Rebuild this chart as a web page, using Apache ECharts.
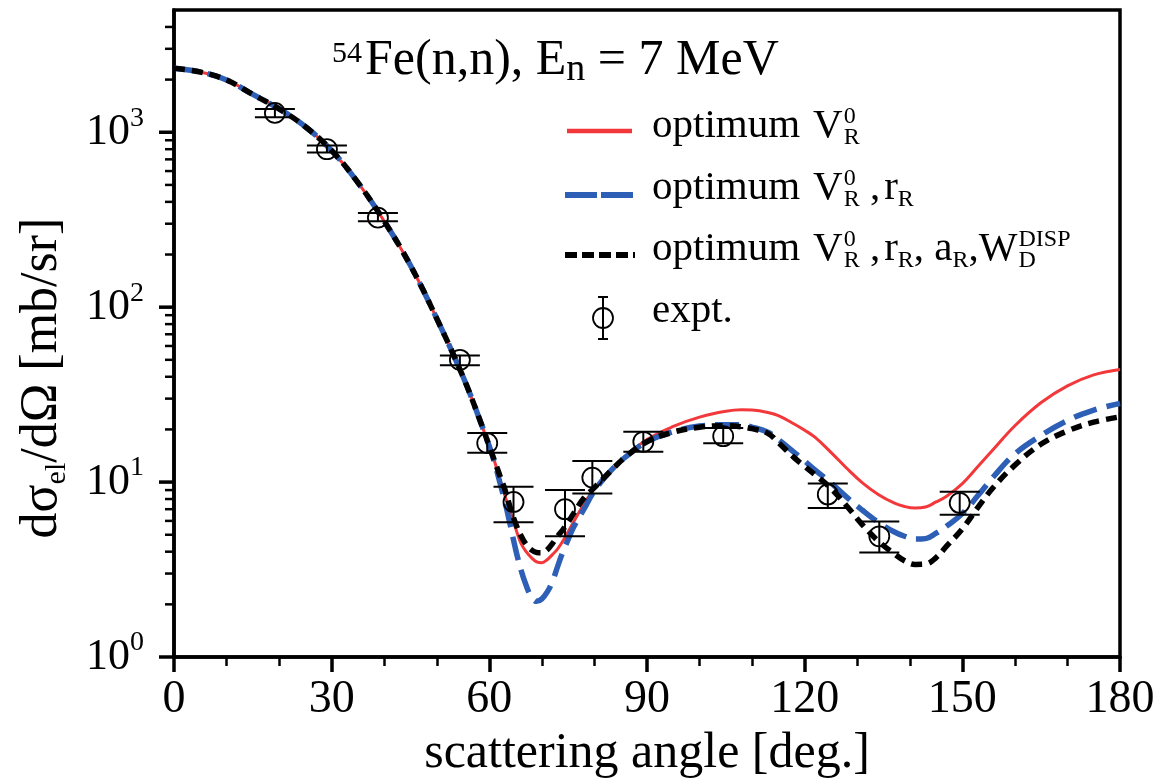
<!DOCTYPE html>
<html><head><meta charset="utf-8">
<script src="https://cdn.jsdelivr.net/npm/echarts@6/dist/echarts.min.js"></script>
<style>html,body{margin:0;padding:0;background:#fff}#c{width:1163px;height:784px}</style>
</head><body><div id="c"></div>
<script>
const FONT = '"Liberation Serif", "Times New Roman", serif';

// ---- data ----
const angles = [0,5,10,15,20,25,30,35,40,45,50,55,58,60,61,62,63,64,65,66,67,68,69,70,71,72,73,74,75,76,78,80,83,86,90,95,100,105,108,110,113,115,118,120,122,125,128,131,134,137,139,141,143,145,147,150,153,156,160,165,170,175,180];
const redVals = [2320,2210,1990,1645,1360,1075,785,515,310,173,86,40,23.5,16,13.1,10.4,8.3,6.7,5.44,4.47,4.0,3.7,3.5,3.46,3.6,3.85,4.15,4.6,5.2,5.9,7.5,9.2,11.5,14,17.5,20.8,23.5,25.4,25.9,25.8,25.0,24,21.5,19.8,18,14.8,12,9.9,8.5,7.6,7.25,7.1,7.2,7.7,8.3,9.8,12.3,15.5,21,28.5,35.5,41,44];
const blueVals = [2320,2210,1990,1645,1360,1075,785,515,310,173,86,40,23.5,16,12.9,9.96,7.65,5.65,4.13,3.16,2.57,2.21,2.08,2.15,2.35,2.7,3.3,4.0,4.7,5.5,7.0,8.9,11.5,14,17,19.4,20.9,21.3,21.2,20.6,19.3,17.5,14.8,13.2,11.7,9.9,8.2,6.9,5.9,5.2,4.9,4.72,4.75,5.1,5.6,6.6,8.4,10.8,14.5,18.5,22.5,25.8,28.2];
const blackVals = [2320,2210,1990,1645,1360,1075,785,515,310,173,86,40,23.5,16,13.2,10.9,9.0,7.1,5.8,4.95,4.4,4.1,3.96,3.95,4.1,4.45,4.9,5.35,5.9,6.6,8.1,9.3,11.5,14,17,19.3,20.6,21,20.7,20.2,19,16.8,13.8,12.3,11.0,9.2,7.3,5.7,4.6,3.9,3.55,3.38,3.4,3.7,4.3,5.4,7.2,9.4,12.5,16.5,19.6,22,23.6];

const exptAngles = [19.2,29.1,38.8,54.4,59.6,64.6,74.4,79.6,89.3,104.5,124.4,134.2,149.5];
const exptVals   = [1290,800,325,50,16.7,7.7,7.0,10.6,17.0,18.3,8.5,4.9,7.6];
const exptLow    = [1220,765,310,46.5,14.7,5.9,4.9,8.6,14.9,16.7,7.1,3.96,6.5];
const exptHigh   = [1360,840,345,53,19.1,9.4,9.0,13.2,19.4,20.4,9.8,5.95,8.8];

const yMajorTicks = [1,10,100,1000];
const yMinorTicks = [2,3,4,5,6,7,8,9,20,30,40,50,60,70,80,90,200,300,400,500,600,700,800,900,2000,3000,4000];

const seriesNames = ['optimum V_R^0','optimum V_R^0, r_R','optimum V_R^0, r_R, a_R, W_D^DISP','expt.'];

// ---- helpers ----
const mctx = document.createElement('canvas').getContext('2d');
function tw(t, s){ mctx.font = s + 'px "Liberation Serif"'; return mctx.measureText(t).width; }
function run(x0, base, pieces){
  const els = []; let x = x0;
  pieces.forEach(p => {
    if (p.gap){ x += p.gap; return; }
    const list = p.stack || [p];
    let wmax = 0;
    list.forEach(q => {
      els.push({type:'text', x: x, y: base + (q.dy||0) - 0.34*q.s, silent:true,
        style:{text:q.t, font: q.s+'px '+FONT, fill:'#000', align:'left', textAlign:'left', verticalAlign:'middle', textVerticalAlign:'middle'}});
      wmax = Math.max(wmax, tw(q.t, q.s));
    });
    x += wmax;
  });
  return els;
}

const LF = 41, LS = 24;
const VR0 = [{t:'V', s:LF}, {gap:1}, {stack:[{t:'0', s:LS, dy:-15}, {t:'R', s:LS, dy:6}]}];
const graphics = [];
// title
graphics.push(...run(332, 78, [{t:'54', s:30, dy:-14}, {gap:3}, {t:'Fe(n,n), E', s:50}, {t:'n', s:38, dy:5}, {t:' = 7 MeV', s:50}]));
// legend rows
graphics.push({type:'line', silent:true, shape:{x1:567,y1:131,x2:632,y2:131}, style:{stroke:'#f2383a', lineWidth:4.5}});
graphics.push(...run(652, 140, [{t:'optimum', s:LF}, {gap:13}, ...VR0]));
graphics.push({type:'line', silent:true, shape:{x1:565,y1:195,x2:633,y2:195}, style:{stroke:'#2c5fb5', lineWidth:6, lineDash:[32,4]}});
graphics.push(...run(652, 202, [{t:'optimum', s:LF}, {gap:13}, ...VR0, {t:' ,', s:LF}, {gap:4}, {t:'r', s:LF}, {t:'R', s:LS, dy:6}]));
graphics.push({type:'line', silent:true, shape:{x1:565,y1:255,x2:635,y2:255}, style:{stroke:'#000', lineWidth:6, lineDash:[12,5]}});
graphics.push(...run(652, 263, [{t:'optimum', s:LF}, {gap:13}, ...VR0, {t:' ,', s:LF}, {gap:4}, {t:'r', s:LF}, {t:'R', s:LS, dy:6}, {t:', a', s:LF}, {t:'R', s:LS, dy:6}, {t:',W', s:LF}, {gap:1}, {stack:[{t:'DISP', s:LS, dy:-15}, {t:'D', s:LS, dy:6}]}]));
// expt legend symbol
graphics.push({type:'circle', silent:true, shape:{cx:603, cy:318, r:10}, style:{fill:'none', stroke:'#000', lineWidth:1.8}});
graphics.push({type:'line', silent:true, shape:{x1:603,y1:297,x2:603,y2:339}, style:{stroke:'#000', lineWidth:2}});
graphics.push({type:'line', silent:true, shape:{x1:598,y1:297,x2:608,y2:297}, style:{stroke:'#000', lineWidth:2}});
graphics.push({type:'line', silent:true, shape:{x1:598,y1:339,x2:608,y2:339}, style:{stroke:'#000', lineWidth:2}});
graphics.push(...run(652, 325, [{t:'expt.', s:LF}]));
// y axis title
graphics.push({type:'text', x:42, y:378, rotation:Math.PI/2, silent:true,
  style:{text:'{a|dσ}{b|el}{a|/dΩ [mb/sr]}', align:'center', verticalAlign:'middle', textAlign:'center', textVerticalAlign:'middle', fill:'#000',
    rich:{a:{fontFamily:FONT, fontSize:52, lineHeight:60, verticalAlign:'middle', fill:'#000', color:'#000'},
          b:{fontFamily:FONT, fontSize:30, lineHeight:28, verticalAlign:'bottom', fill:'#000', color:'#000'}}}});

const chart = echarts.init(document.getElementById('c'), null, {renderer:'canvas'});
const pair = (xs, ys) => xs.map((x,i)=>[x, ys[i]]);

chart.setOption({
  backgroundColor:'#fff',
  animation:false,
  grid:{left:174, right:43, top:10, bottom:126, show:true, borderColor:'#000', borderWidth:3.5, backgroundColor:'transparent'},
  xAxis:{type:'value', min:0, max:180, interval:30,
    name:'scattering angle [deg.]', nameLocation:'middle', nameGap:72,
    nameTextStyle:{fontFamily:FONT, fontSize:50, color:'#000'},
    axisLine:{lineStyle:{color:'#000', width:3.5}},
    axisTick:{inside:false, length:15, lineStyle:{color:'#000', width:3.5}},
    minorTick:{show:true, splitNumber:3, length:9, lineStyle:{color:'#000', width:2.5}},
    splitLine:{show:false},
    axisLabel:{fontFamily:FONT, fontSize:46, color:'#000', margin:20}},
  yAxis:{type:'log', logBase:10, min:1, max:5000,
    axisLine:{lineStyle:{color:'#000', width:3.5}},
    axisTick:{show:false},
    splitLine:{show:false},
    axisLabel:{margin:30, color:'#000',
      formatter:function(v){ const e=Math.log10(v); const r=Math.round(e); if(Math.abs(e-r)>1e-6) return ''; return '{b|10}{s|'+r+'}'; },
      rich:{b:{fontFamily:FONT, fontSize:44, lineHeight:56, color:'#000'},
            s:{fontFamily:FONT, fontSize:28, lineHeight:30, verticalAlign:'top', color:'#000'}}}},
  graphic:graphics,
  series:[
    {name:seriesNames[0], type:'line', data:pair(angles, redVals), symbol:'none', smooth:0.4, lineStyle:{color:'#f2383a', width:3}, z:2},
    {name:seriesNames[1], type:'line', data:pair(angles, blueVals), symbol:'none', smooth:0.4, lineStyle:{color:'#2c5fb5', width:5.5, type:[24,10]}, z:3},
    {name:seriesNames[2], type:'line', data:pair(angles, blackVals), symbol:'none', smooth:0.4, lineStyle:{color:'#000', width:5.5, type:[11,7]}, z:4},
    {name:seriesNames[3], type:'custom', z:5, silent:true,
      data: exptAngles.map((a,i)=>[a, exptVals[i], exptLow[i], exptHigh[i]]),
      encode:{x:0, y:1},
      renderItem:function(params, api){
        const a=api.value(0);
        const c=api.coord([a, api.value(1)]), lo=api.coord([a, api.value(2)]), hi=api.coord([a, api.value(3)]);
        const st={stroke:'#000', lineWidth:2};
        return {type:'group', children:[
          {type:'line', shape:{x1:c[0], y1:lo[1], x2:c[0], y2:hi[1]}, style:st},
          {type:'line', shape:{x1:c[0]-20, y1:lo[1], x2:c[0]+20, y2:lo[1]}, style:st},
          {type:'line', shape:{x1:c[0]-20, y1:hi[1], x2:c[0]+20, y2:hi[1]}, style:st},
          {type:'circle', shape:{cx:c[0], cy:c[1], r:10}, style:{fill:'none', stroke:'#000', lineWidth:1.8}}
        ]};
      }},
    {name:'yticks', type:'custom', z:6, silent:true, clip:false,
      data: yMajorTicks.map(v=>[0, v, 1]).concat(yMinorTicks.map(v=>[0, v, 0])),
      encode:{x:0, y:1},
      renderItem:function(params, api){
        const p=api.coord([0, api.value(1)]); const major=api.value(2)===1;
        const len= major?15:9;
        return {type:'line', shape:{x1:p[0]-len, y1:p[1], x2:p[0], y2:p[1]}, style:{stroke:'#000', lineWidth: major?3.5:2.5}};
      }}
  ]
});
</script>
</body></html>
